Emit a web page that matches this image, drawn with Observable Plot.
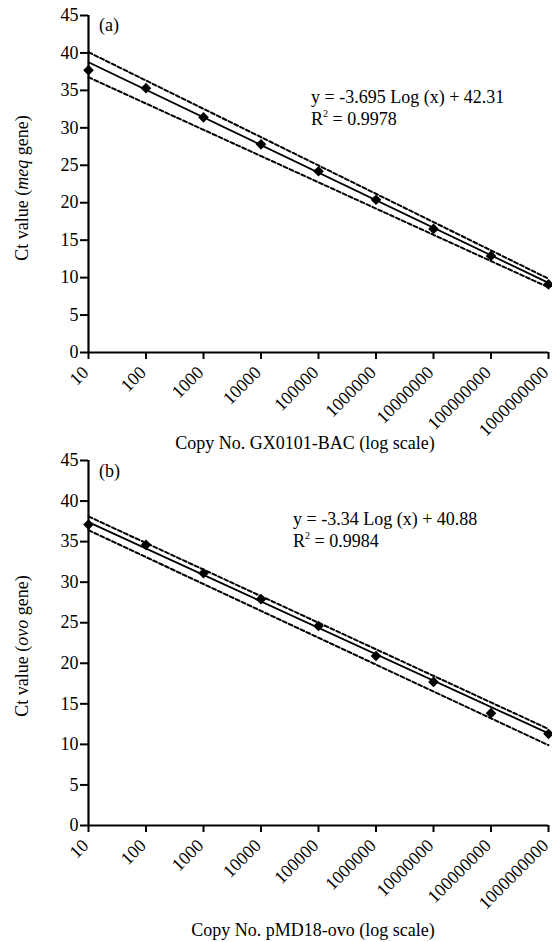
<!DOCTYPE html>
<html><head><meta charset="utf-8">
<script src="https://cdn.jsdelivr.net/npm/d3@7"></script>
<script src="https://cdn.jsdelivr.net/npm/@observablehq/plot@0.6"></script>
<style>
body{margin:0;background:#fff;}
#chart svg{display:block;overflow:visible;}
</style></head><body><div id="chart"></div>
<script>
// ---- data ----
const copies = [10, 100, 1000, 10000, 100000, 1000000, 10000000, 100000000, 1000000000];
const ctMeq = [37.7, 35.3, 31.4, 27.8, 24.2, 20.4, 16.5, 12.9, 9.1];
const ctOvo = [37.1, 34.6, 31.1, 27.9, 24.6, 20.9, 17.7, 13.85, 11.3];
const fitX = [10, 1000000000];
const fitMeq = [38.75, 9.3];
const upperMeq = [40.1, 9.85];
const lowerMeq = [36.75, 8.7];
const fitOvo = [37.4, 11.35];
const upperOvo = [38.1, 11.9];
const lowerOvo = [36.4, 9.9];
const yTicks = [0, 5, 10, 15, 20, 25, 30, 35, 40, 45];
const xTicks = copies;

const FONT = "'Liberation Serif', 'Times New Roman', Times, serif";

function panel(opts) {
  const pts = copies.map((c, i) => ({x: c, y: opts.ct[i]}));
  const mk = arr => fitX.map((x, i) => ({x, y: arr[i]}));
  const svg = Plot.plot({
    width: 552,
    height: opts.height,
    marginLeft: 88,
    marginRight: 4,
    marginTop: opts.marginTop,
    marginBottom: opts.marginBottom,
    style: {fontFamily: FONT, fontSize: "18px", color: "#000", background: "#fff", overflow: "visible"},
    x: {type: "log", domain: [10, 1000000000]},
    y: {domain: [0, 45]},
    marks: [
      Plot.axisY({ticks: yTicks, tickSize: 8, tickPadding: 2, strokeWidth: 2, label: null}),
      Plot.axisX({ticks: xTicks, tickSize: 7, strokeWidth: 2, tickFormat: () => "", label: null}),
      Plot.text(xTicks, {x: d => d, frameAnchor: "bottom", text: d => String(d), rotate: -45,
        textAnchor: "end", lineAnchor: "middle", dx: -3, dy: opts.tickDy, fontSize: 18}),
      Plot.line(mk(opts.upper), {x: "x", y: "y", stroke: "#000", strokeWidth: 2, strokeDasharray: "4,2.5"}),
      Plot.line(mk(opts.lower), {x: "x", y: "y", stroke: "#000", strokeWidth: 2, strokeDasharray: "4,2.5"}),
      Plot.line(mk(opts.fit), {x: "x", y: "y", stroke: "#000", strokeWidth: 1.8}),
      Plot.ruleX([10], {stroke: "#000", strokeWidth: 2.2}),
      Plot.ruleY([0], {stroke: "#000", strokeWidth: 2.2}),
      Plot.dot(pts, {x: "x", y: "y", symbol: "diamond2", r: 4.8, fill: "#000", stroke: "none"})
    ]
  });
  const s = d3.select(svg);
  const g = s.append("g").attr("font-family", FONT).attr("font-size", 18).attr("fill", "#000").attr("text-anchor", "start");
  g.append("text").attr("x", 99).attr("y", opts.tagY).text(opts.tag);
  g.append("text").attr("x", opts.eqX).attr("y", opts.eqY).text(opts.eq);
  const r2 = g.append("text").attr("x", opts.eqX).attr("y", opts.eqY + 22);
  r2.append("tspan").text("R");
  r2.append("tspan").attr("font-size", 10).attr("dy", -8).text("2");
  r2.append("tspan").attr("dy", 8).text(" = " + opts.r2);
  const yl = g.append("text").attr("text-anchor", "middle")
    .attr("transform", `translate(28,${opts.ylabY}) rotate(-90)`);
  yl.append("tspan").text("Ct value (");
  yl.append("tspan").attr("font-style", "italic").text(opts.gene);
  yl.append("tspan").text(" gene)");
  g.append("text").attr("text-anchor", "middle").attr("x", opts.xlabX).attr("y", opts.xlabY).text(opts.xlab);
  return svg;
}

const root = document.getElementById("chart");
root.appendChild(panel({
  ct: ctMeq, fit: fitMeq, upper: upperMeq, lower: lowerMeq,
  height: 452, marginTop: 15, marginBottom: 100, tickDy: 17,
  tag: "(a)", tagY: 31,
  eq: "y = -3.695 Log (x) + 42.31", r2: "0.9978", eqX: 311, eqY: 103,
  gene: "meq", ylabY: 188,
  xlab: "Copy No. GX0101-BAC (log scale)", xlabX: 305, xlabY: 449
}));
root.appendChild(panel({
  ct: ctOvo, fit: fitOvo, upper: upperOvo, lower: lowerOvo,
  height: 490, marginTop: 8, marginBottom: 117, tickDy: 17,
  tag: "(b)", tagY: 25,
  eq: "y = -3.34 Log (x) + 40.88", r2: "0.9984", eqX: 293, eqY: 73,
  gene: "ovo", ylabY: 194,
  xlab: "Copy No. pMD18-ovo (log scale)", xlabX: 313, xlabY: 484
}));
</script>
</body></html>
